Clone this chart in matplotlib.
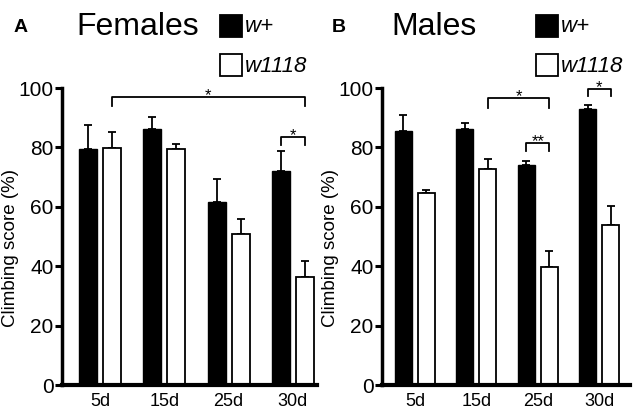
import matplotlib
matplotlib.use("Agg")
import matplotlib.pyplot as plt
from matplotlib.patches import Rectangle
import numpy as np

plt.rcParams['font.family'] = ['Liberation Sans', 'DejaVu Sans']

days = ["5d", "15d", "25d", "30d"]

fem_wplus = [79.4, 86.2, 61.5, 72.2]
fem_wplus_err = [8.0, 3.9, 7.8, 6.7]
fem_w1118 = [79.8, 79.6, 50.8, 36.4]
fem_w1118_err = [5.4, 1.6, 5.0, 5.2]

male_wplus = [85.4, 86.3, 74.2, 93.0]
male_wplus_err = [5.4, 1.9, 1.3, 1.4]
male_w1118 = [64.6, 72.8, 39.6, 53.9]
male_w1118_err = [1.1, 3.4, 5.5, 6.5]

yticks = [0, 20, 40, 60, 80, 100]

W, H = 638, 419
fig = plt.figure(figsize=(W / 100, H / 100), dpi=100)

def fx(px):
    return px / W

def fy(py):
    return 1 - py / H

off = 0.187
bw = 0.28

def panel(left_px, right_px, xlim, wplus, wplus_err, w1118, w1118_err, brackets):
    ax = fig.add_axes([fx(left_px), fy(385), fx(right_px - left_px), (385 - 88) / H])
    x = np.arange(len(days))
    ax.bar(x - off, wplus, bw, color="black", edgecolor="black", linewidth=1.0, zorder=2)
    ax.bar(x + off, w1118, bw, color="white", edgecolor="black", linewidth=1.3, zorder=2)
    ax.errorbar(x - off, wplus, yerr=[np.zeros(len(x)), wplus_err], fmt="none",
                ecolor="black", elinewidth=1.3, capsize=3.2, capthick=1.3, zorder=1)
    ax.errorbar(x + off, w1118, yerr=[np.zeros(len(x)), w1118_err], fmt="none",
                ecolor="black", elinewidth=1.3, capsize=3.2, capthick=1.3, zorder=1)
    ax.set_xlim(*xlim)
    ax.set_ylim(0, 100)
    ax.set_yticks(yticks)
    ax.set_xticks(x)
    ax.set_xticklabels(days, fontsize=13)
    ax.tick_params(axis="x", length=0, pad=6)
    ax.tick_params(axis="y", length=5, width=2.2, labelsize=15, pad=1)
    for s in ["top", "right"]:
        ax.spines[s].set_visible(False)
    ax.spines["left"].set_linewidth(2.5)
    ax.spines["bottom"].set_linewidth(3)
    ax.set_ylabel("Climbing score (%)", fontsize=13.5, labelpad=1)
    ax.yaxis.set_label_coords(-0.17 if left_px < 300 else -0.175, 0.46)
    for (x1, x2, yb, yt, lab) in brackets:
        ax.plot([x1, x1, x2, x2], [yb, yt, yt, yb], color="black", lw=1.3,
                clip_on=False, zorder=3)
        ax.text((x1 + x2) / 2, yt - 1.0, lab, ha="center", va="baseline",
                fontsize=12, clip_on=False)
    return ax

panel(62, 317, (-0.59, 3.375), fem_wplus, fem_wplus_err, fem_w1118, fem_w1118_err,
      [(0 + off, 3 + off, 94.0, 97.0, "*"),
       (3 - off, 3 + off, 80.9, 83.4, "*")])
panel(382, 630, (-0.535, 3.5), male_wplus, male_wplus_err, male_w1118, male_w1118_err,
      [(1 + off, 2 + off, 93.3, 96.6, "*"),
       (2 - off, 2 + off, 78.7, 81.5, "**"),
       (3 - off, 3 + off, 97.2, 99.7, "*")])

# Panel labels and titles
fig.text(fx(14), fy(27), "A", fontsize=14, fontweight="bold", va="center", ha="left")
fig.text(fx(76), fy(27), "Females", fontsize=23, va="center", ha="left")
fig.text(fx(332), fy(27), "B", fontsize=14, fontweight="bold", va="center", ha="left")
fig.text(fx(391), fy(27), "Males", fontsize=23, va="center", ha="left")

# Legends
def legend(xpx):
    for (ypx, fc, lab) in [(15, "black", "w+"), (54, "white", "w1118")]:
        r = Rectangle((fx(xpx), fy(ypx + 22)), fx(22), 22 / H, facecolor=fc,
                      edgecolor="black", linewidth=1.3, transform=fig.transFigure)
        fig.add_artist(r)
        fig.text(fx(xpx + 25), fy(ypx + 12), lab, fontsize=16, style="italic",
                 va="center", ha="left")

legend(220)
legend(536)

fig.savefig("out.png", dpi=100)
